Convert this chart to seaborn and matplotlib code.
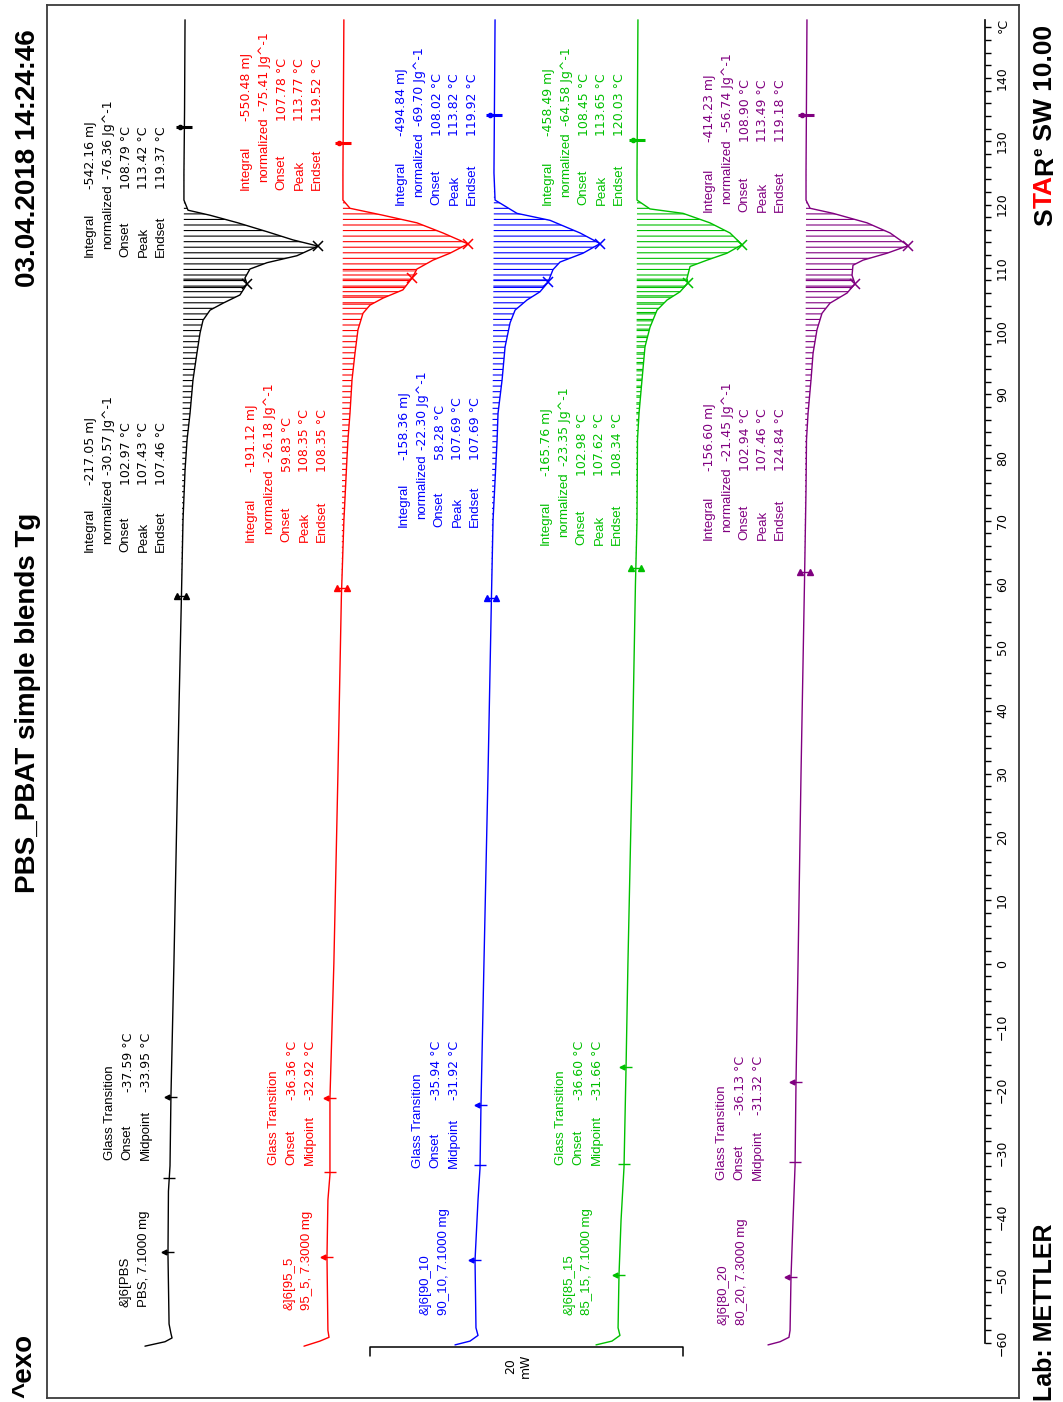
import numpy as np
import pandas as pd
import matplotlib
matplotlib.use("Agg")
import matplotlib.pyplot as plt
import matplotlib.transforms as mtransforms
from matplotlib.ticker import MultipleLocator
import seaborn as sns

# ---------------------------------------------------------------------------
# DSC heating scans (temperature in °C, heat flow in mW, endothermic < 0)
# ---------------------------------------------------------------------------
SAMPLES = ["PBS", "95_5", "90_10", "85_15", "80_20"]
COLORS = ["#000000", "#ff0000", "#0000ff", "#00c000", "#800080"]

PBS_T = [-60.5, -59.8, -59.2, -58.5, -57.0, -46.0, -36.0, -32.0, -21.0, 0.0, 20.0, 40.0, 58.0,
         70.0, 78.0, 82.8, 87.0, 92.3, 96.5, 99.7, 101.7, 103.3, 104.4, 105.7, 107.43, 108.4,
         109.8, 110.8, 111.9, 113.42, 114.4, 115.7, 117.1, 118.3, 119.1, 120.7, 125.0, 135.0, 149.2]
PBS_HF = [2.43, 1.15, 0.70, 0.77, 0.89, 0.96, 0.93, 0.83, 0.77, 0.58, 0.42, 0.26, 0.10,
          0.0, -0.13, -0.26, -0.45, -0.64, -0.89, -1.09, -1.28, -1.73, -2.56, -3.64, -4.09, -3.96,
          -4.28, -5.37, -7.28, -8.63, -7.03, -5.37, -3.51, -1.73, -0.32, -0.06, -0.06, -0.10, -0.13]

B95_T = [-60.5, -59.7, -59.1, -58.0, -46.4, -37.4, -33.4, -21.3, 0.0, 30.0, 58.0, 70.0, 75.0,
         80.0, 82.8, 87.0, 92.3, 96.5, 100.2, 102.8, 104.1, 105.2, 106.5, 108.35, 109.8, 111.2,
         112.3, 113.77, 115.5, 117.1, 118.3, 119.4, 120.7, 125.0, 149.2]
B95_HF = [2.49, 1.47, 0.89, 0.96, 1.02, 0.96, 0.83, 0.83, 0.58, 0.32, 0.10, -0.06, -0.16,
          -0.26, -0.32, -0.45, -0.58, -0.77, -0.96, -1.28, -1.73, -2.56, -3.83, -4.41, -4.73, -5.75,
          -6.84, -7.99, -6.39, -4.73, -2.56, -0.45, 0.0, 0.0, -0.06]

B90_T = [-60.3, -59.7, -58.8, -57.6, -46.9, -37.4, -32.3, -22.4, 0.0, 30.0, 58.0, 70.0, 82.8,
         87.0, 92.3, 97.5, 101.3, 103.3, 104.9, 106.2, 107.69, 109.7, 110.9, 112.3, 113.82, 115.5,
         117.5, 118.6, 120.7, 125.0, 149.2]
B90_HF = [2.43, 1.47, 0.96, 1.09, 1.15, 0.96, 0.83, 0.77, 0.58, 0.32, 0.10, 0.0, -0.26,
          -0.32, -0.58, -0.77, -1.09, -1.41, -2.17, -3.00, -3.51, -3.83, -4.28, -5.75, -6.84, -5.56,
          -3.64, -1.53, -0.13, -0.06, -0.13]

B85_T = [-60.3, -59.7, -58.8, -57.6, -49.2, -40.6, -32.2, -16.4, 0.0, 30.0, 60.0, 70.0, 82.8,
         87.0, 92.3, 97.5, 100.6, 103.3, 104.9, 106.2, 107.62, 108.3, 110.2, 111.2, 112.3, 113.65,
         115.5, 117.1, 118.6, 119.3, 120.7, 125.0, 149.2]
B85_HF = [2.62, 1.60, 1.09, 1.21, 1.15, 1.02, 0.83, 0.70, 0.58, 0.32, 0.10, 0.0, -0.03,
          -0.13, -0.32, -0.51, -0.83, -1.28, -1.92, -2.75, -3.26, -3.19, -3.39, -4.47, -5.75, -6.71,
          -5.94, -4.66, -2.94, -0.83, 0.0, 0.0, -0.06]

B80_T = [-60.3, -59.8, -59.1, -58.0, -49.6, -40.6, -31.9, -18.7, 0.0, 30.0, 60.0, 75.0, 82.8,
         87.0, 92.3, 96.5, 100.2, 102.8, 104.4, 106.0, 107.46, 108.8, 110.4, 111.2, 112.3, 113.49,
         115.5, 117.1, 118.6, 119.4, 120.7, 125.0, 149.2]
B80_HF = [2.43, 1.66, 1.09, 1.02, 0.96, 0.83, 0.70, 0.64, 0.51, 0.32, 0.10, 0.0, -0.03,
          -0.13, -0.32, -0.45, -0.70, -1.02, -1.53, -2.62, -3.13, -2.94, -3.00, -3.64, -5.18, -6.52,
          -5.37, -3.90, -1.73, -0.26, 0.0, 0.0, -0.06]

CURVE_T = [PBS_T, B95_T, B90_T, B85_T, B80_T]
CURVE_HF = [PBS_HF, B95_HF, B90_HF, B85_HF, B80_HF]

# Integration limits of the melting evaluation (°C)
INT_LO = [58.1, 59.4, 57.8, 62.5, 61.9]
INT_HI = [132.2, 129.7, 134.1, 130.2, 134.1]
# Partial integration of the low-temperature shoulder (°C)
PART_LO = [106.4, 103.3, 106.8, 85.0, 106.5]
PART_HI = [108.4, 109.6, 108.2, 108.4, 108.5]

# Peak temperatures (main peak, shoulder)
PEAK_MAIN = [113.42, 113.77, 113.82, 113.65, 113.49]
PEAK_SHOULDER = [107.43, 108.35, 107.69, 107.62, 107.46]

# Glass transition: evaluation limits and midpoint (°C)
TG_LIM_LO = [-45.6, -46.4, -46.9, -49.2, -49.6]
TG_LIM_HI = [-21.1, -21.3, -22.4, -16.4, -18.7]
TG_ONSET = [-37.59, -36.36, -35.94, -36.60, -36.13]
TG_MID = [-33.95, -32.92, -31.92, -31.66, -31.32]

# Melting evaluation results
BIG_INTEGRAL = ["-542.16", "-550.48", "-494.84", "-458.49", "-414.23"]
BIG_NORM = ["-76.36", "-75.41", "-69.70", "-64.58", "-56.74"]
BIG_ONSET = ["108.79", "107.78", "108.02", "108.45", "108.90"]
BIG_PEAK = ["113.42", "113.77", "113.82", "113.65", "113.49"]
BIG_ENDSET = ["119.37", "119.52", "119.92", "120.03", "119.18"]

SMALL_INTEGRAL = ["-217.05", "-191.12", "-158.36", "-165.76", "-156.60"]
SMALL_NORM = ["-30.57", "-26.18", "-22.30", "-23.35", "-21.45"]
SMALL_ONSET = ["102.97", "59.83", "58.28", "102.98", "102.94"]
SMALL_PEAK = ["107.43", "108.35", "107.69", "107.62", "107.46"]
SMALL_ENDSET = ["107.46", "108.35", "107.69", "108.34", "124.84"]

SAMPLE_MASS = ["7.1000", "7.3000", "7.1000", "7.1000", "7.3000"]

RESULT_LABELS = ["Integral", "normalized", "Onset", "Peak", "Endset"]
TEMP_TICKS = list(range(-60, 141, 10))
SCALE_MW = 20

# ---------------------------------------------------------------------------
# Layout (image pixels)
# ---------------------------------------------------------------------------
W, H, DPI = 1063, 1402, 100
PX_PER_MW = 15.65
PX_PER_C = 6.325
ROW_ZERO_C = 963.5
FRAME_L, FRAME_T, FRAME_R, FRAME_B = 47, 5, 1019, 1398
OFFSETS_MW = [8.69, 18.91, 28.50, 37.70, 48.50]
ROW_STEP = 17.8        # spacing of text rows
INDENT = 8             # indent of the "normalized" label
NORM_SHIFT = 10        # the value next to "normalized" sits on a later tab stop

BIG_POS = [(84, 257, 189), (240, 190, 121), (395, 205, 136), (542, 205, 136), (703, 212, 142)]
SMALL_POS = [(84, 552, 485), (245, 542, 472), (398, 527, 460), (540, 545, 476), (703, 540, 471)]
TG_POS = [(104, 1160, 1092), (268, 1165, 1100), (412, 1168, 1100), (555, 1165, 1100), (716, 1180, 1115)]
NAME_POS = [(120, 1307), (283, 1310), (420, 1315), (563, 1315), (718, 1325)]


def temp_at_row(row):
    return (ROW_ZERO_C - row) / PX_PER_C


def fx(px):
    return px / W


def fy(row):
    return 1 - row / H


sns.set_theme(style="white")
plt.rcParams["font.family"] = ["DejaVu Sans"]
plt.rcParams["hatch.linewidth"] = 0.8
plt.rcParams["text.color"] = "black"
plt.rcParams["ytick.color"] = "black"

fig = plt.figure(figsize=(W / DPI, H / DPI), dpi=DPI)
fig.patch.set_facecolor("white")

ax = fig.add_axes([fx(FRAME_L), fy(FRAME_B), (FRAME_R - FRAME_L) / W, (FRAME_B - FRAME_T) / H])
ax.set_facecolor("white")
ax.set_xlim(0, (FRAME_R - FRAME_L) / PX_PER_MW)
ax.set_ylim(temp_at_row(FRAME_B), temp_at_row(FRAME_T))
ax.set_xticks([])
ax.set_yticks([])
for sp in ax.spines.values():
    sp.set_color("#3c3c3c")
    sp.set_linewidth(1.3)

LABEL_FONT = dict(fontsize=9.5, rotation=90, ha="left", va="bottom",
                  family=["Liberation Sans", "DejaVu Sans"])
VALUE_FONT = dict(fontsize=9, rotation=90, ha="left", va="bottom", family=["DejaVu Sans"])


def pos_at(i, t):
    return OFFSETS_MW[i] - np.interp(t, CURVE_T[i], CURVE_HF[i])


def shifted(dx):
    return mtransforms.offset_copy(ax.transData, fig=fig, x=dx, y=0, units="points")


def result_block(x0, label_row, value_row, values, col):
    for k, (lab, val) in enumerate(zip(RESULT_LABELS, values)):
        x = x0 + k * ROW_STEP
        norm = lab == "normalized"
        fig.text(fx(x), fy(label_row - (INDENT if norm else 0)), lab, color=col, **LABEL_FONT)
        fig.text(fx(x), fy(value_row - (NORM_SHIFT if norm else 0)), val, color=col, **VALUE_FONT)


frames = []
for i, name in enumerate(SAMPLES):
    frames.append(pd.DataFrame({
        "T": CURVE_T[i],
        "pos": OFFSETS_MW[i] - np.asarray(CURVE_HF[i]),
        "sample": name,
    }))
data = pd.concat(frames, ignore_index=True)

for i, name in enumerate(SAMPLES):
    col = COLORS[i]
    T = np.asarray(CURVE_T[i])
    sub = data[data["sample"] == name]
    sns.lineplot(data=sub, x="pos", y="T", orient="y", sort=False, estimator=None,
                 color=col, lw=1.0, ax=ax, legend=False)

    # hatched area of the melting integration (straight baseline between limits)
    lo, hi = INT_LO[i], INT_HI[i]
    ts = np.concatenate([[lo], T[(T > lo) & (T < hi)], [hi]])
    xc = pos_at(i, ts)
    xb = np.interp(ts, [lo, hi], [xc[0], xc[-1]])
    ax.fill_betweenx(ts, xb, xc, facecolor="none", edgecolor=col, linewidth=0, hatch="---")

    # extra hatching for the partial (shoulder) integration
    plo, phi = PART_LO[i], PART_HI[i]
    ts2 = np.concatenate([[plo], T[(T > plo) & (T < phi)], [phi]])
    xc2 = pos_at(i, ts2)
    xb2 = np.interp(ts2, [lo, hi], [xc[0], xc[-1]])
    ax.fill_betweenx(ts2, xb2, xc2, facecolor="none", edgecolor=col, linewidth=0, hatch="--")

    # peak markers
    for tp in (PEAK_MAIN[i], PEAK_SHOULDER[i]):
        ax.plot(pos_at(i, tp), tp, ls="none", marker="x", ms=7, mew=1.1, color=col)

    # integration limit markers
    ax.plot(pos_at(i, hi), hi, ls="none", marker="_", ms=11, mew=2.2, color=col)
    ax.plot(pos_at(i, hi), hi, ls="none", marker="o", ms=3, color=col, transform=shifted(-3))
    ax.plot(pos_at(i, lo), lo, ls="none", marker="_", ms=9, mew=1.0, color=col)
    for dx in (-3.5, 3.5):
        ax.plot(pos_at(i, lo), lo, ls="none", marker="^", ms=4, color=col, transform=shifted(dx))

    # glass transition markers
    for tg in (TG_LIM_LO[i], TG_LIM_HI[i]):
        ax.plot(pos_at(i, tg), tg, ls="none", marker="_", ms=8, mew=1.0, color=col)
        ax.plot(pos_at(i, tg), tg, ls="none", marker="<", ms=3.5, color=col, transform=shifted(-3))
    ax.plot(pos_at(i, TG_MID[i]), TG_MID[i], ls="none", marker="_", ms=9, mew=1.0, color=col)

    # evaluation texts
    lx, ly, vy = BIG_POS[i]
    result_block(lx, ly, vy, [f"{BIG_INTEGRAL[i]} mJ", f"{BIG_NORM[i]} Jg^-1", f"{BIG_ONSET[i]} °C",
                              f"{BIG_PEAK[i]} °C", f"{BIG_ENDSET[i]} °C"], col)
    lx, ly, vy = SMALL_POS[i]
    result_block(lx, ly, vy, [f"{SMALL_INTEGRAL[i]} mJ", f"{SMALL_NORM[i]} Jg^-1", f"{SMALL_ONSET[i]} °C",
                              f"{SMALL_PEAK[i]} °C", f"{SMALL_ENDSET[i]} °C"], col)

    lx, ly, vy = TG_POS[i]
    fig.text(fx(lx), fy(ly), "Glass Transition", color=col, **LABEL_FONT)
    fig.text(fx(lx + ROW_STEP), fy(ly), "Onset", color=col, **LABEL_FONT)
    fig.text(fx(lx + 2 * ROW_STEP), fy(ly), "Midpoint", color=col, **LABEL_FONT)
    fig.text(fx(lx + ROW_STEP), fy(vy), f"{TG_ONSET[i]:.2f} °C", color=col, **VALUE_FONT)
    fig.text(fx(lx + 2 * ROW_STEP), fy(vy), f"{TG_MID[i]:.2f} °C", color=col, **VALUE_FONT)

    nx, ny = NAME_POS[i]
    fig.text(fx(nx), fy(ny), f"&]6[{name}", color=col, **LABEL_FONT)
    fig.text(fx(nx + ROW_STEP), fy(ny), f"{name}, {SAMPLE_MASS[i]} mg", color=col, **LABEL_FONT)

# 20 mW scale bracket
sb_left = (370 - FRAME_L) / PX_PER_MW
t_bar, t_end = temp_at_row(1347), temp_at_row(1356)
ax.plot([sb_left, sb_left, sb_left + SCALE_MW, sb_left + SCALE_MW], [t_end, t_bar, t_bar, t_end],
        color="black", lw=1.1)
fig.text(fx(518), fy(1366), f"{SCALE_MW}\nmW", fontsize=9, rotation=90, ha="center", va="center",
         multialignment="center")

# temperature axis
t_top = 149.2
tax = fig.add_axes([fx(985) - 0.01, fy(1343), 0.01, (1343 - (ROW_ZERO_C - t_top * PX_PER_C)) / H])
tax.patch.set_visible(False)
tax.set_ylim(-60, t_top)
for side in ("left", "top", "bottom"):
    tax.spines[side].set_visible(False)
tax.spines["right"].set_linewidth(1.2)
tax.spines["right"].set_color("black")
tax.set_xticks([])
tax.set_yticks(TEMP_TICKS)
tax.yaxis.set_minor_locator(MultipleLocator(2))
tax.tick_params(axis="y", which="both", left=False, right=True, labelleft=False, labelright=True,
                direction="out", length=4, width=1.0, color="black", pad=4, labelsize=9,
                labelcolor="black")
for lab in tax.get_yticklabels():
    lab.set_rotation(90)
    lab.set_va("center")
fig.text(fx(1003), fy(25), "°C", fontsize=9, rotation=90, ha="center", va="center")

# headers and footers
HEAD = dict(rotation=90, fontweight="bold", family=["Liberation Sans", "DejaVu Sans"], color="black")
fig.text(fx(28), fy(287), "03.04.2018 14:24:46", fontsize=20, ha="center", va="bottom", **HEAD)
fig.text(fx(28), fy(893), "PBS_PBAT simple blends Tg", fontsize=20, ha="center", va="bottom", **HEAD)
fig.text(fx(24), fy(1398), "^exo", fontsize=20, ha="center", va="bottom", **HEAD)
fig.text(fx(1045), fy(1401), "Lab: METTLER", fontsize=18, ha="center", va="bottom", **HEAD)

renderer = fig.canvas.get_renderer()
y_cur = fy(226)
for s, col, size, dx in [("S", "black", 19, 0), ("TA", "red", 19, 0), ("R", "black", 19, 0),
                         ("e", "black", 11, -7), (" SW 10.00", "black", 19, 0)]:
    style = dict(HEAD)
    style["color"] = col
    t = fig.text(fx(1045 + dx), y_cur, s, fontsize=size, ha="center", va="bottom", **style)
    bb = t.get_window_extent(renderer)
    y_cur = bb.y1 / fig.bbox.height

fig.savefig("out.png", dpi=DPI, facecolor="white")
